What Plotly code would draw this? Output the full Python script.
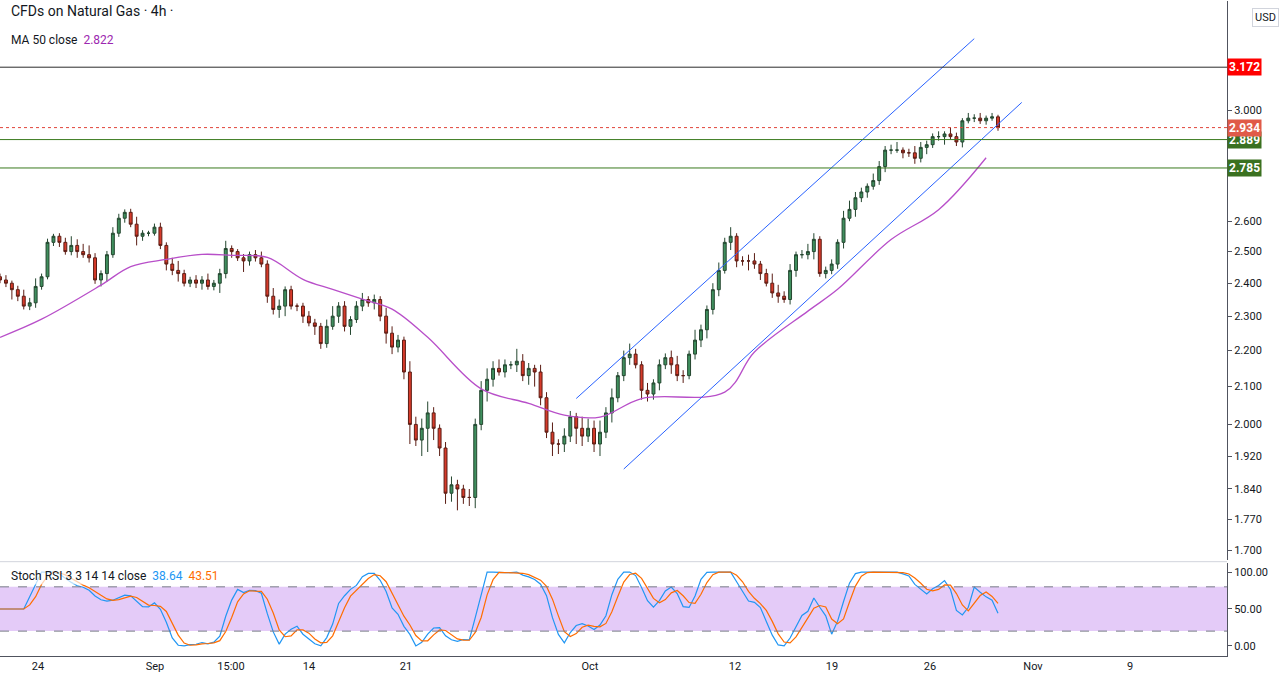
import numpy as np
import pandas as pd
import plotly.graph_objects as go

# 4h closes (open = previous close)
closes = [
    2.41, 2.40, 2.38, 2.36, 2.33, 2.34, 2.39, 2.42, 2.53, 2.55,
    2.53, 2.50, 2.52, 2.50, 2.49, 2.48, 2.41, 2.43, 2.49, 2.56,
    2.61, 2.63, 2.59, 2.55, 2.56, 2.56, 2.58, 2.52, 2.46, 2.44,
    2.43, 2.40, 2.41, 2.40, 2.41, 2.39, 2.40, 2.43, 2.51, 2.50,
    2.48, 2.47, 2.49, 2.48, 2.46, 2.36, 2.32, 2.33, 2.38, 2.33,
    2.33, 2.30, 2.28, 2.27, 2.22, 2.27, 2.30, 2.33, 2.27, 2.29,
    2.33, 2.35, 2.34, 2.35, 2.30, 2.25, 2.21, 2.23, 2.14,
    2.00, 1.96, 1.99, 2.03, 1.99, 1.94, 1.83, 1.85, 1.84, 1.82,
    1.82, 2.00, 2.09, 2.12, 2.15, 2.14, 2.16, 2.16, 2.17, 2.13,
    2.15, 2.14, 2.07, 1.98, 1.95, 1.95, 1.97, 2.02, 1.99, 1.97,
    1.99, 1.95, 1.98, 2.03, 2.07, 2.13, 2.18, 2.19, 2.16, 2.09,
    2.08, 2.11, 2.16, 2.18, 2.16, 2.13, 2.13, 2.19, 2.23, 2.26,
    2.32, 2.38, 2.44, 2.53, 2.55, 2.47, 2.47, 2.47, 2.46, 2.43,
    2.40, 2.37, 2.36, 2.35, 2.44, 2.49, 2.49, 2.50, 2.54, 2.43,
    2.44, 2.46, 2.53, 2.61, 2.64, 2.68, 2.70, 2.72, 2.74, 2.79,
    2.85, 2.85, 2.85, 2.84, 2.84, 2.82, 2.86, 2.87, 2.90, 2.90,
    2.91, 2.90, 2.88, 2.96, 2.97, 2.97, 2.96, 2.97, 2.975, 2.934,
]
first_open = 2.42

# wick lengths in thousandths of a dollar
wick_up = [
    10, 15, 8, 12, 20, 15, 25, 10, 12, 8,
    10, 15, 30, 20, 25, 30, 15, 10, 12, 20,
    15, 10, 12, 25, 10, 8, 12, 15, 10, 20,
    30, 12, 10, 15, 12, 20, 10, 15, 25, 10,
    8, 12, 10, 15, 20, 12, 25, 20, 10, 12,
    8, 10, 15, 12, 10, 20, 30, 12, 15, 10,
    15, 20, 10, 15, 10, 25, 20, 15, 10, 30,
    20, 25, 30, 15, 10, 15, 20, 12, 10, 20,
    15, 25, 30, 20, 25, 15, 10, 35, 20, 15,
    10, 20, 15, 25, 12, 20, 15, 10, 30, 25,
    20, 30, 15, 25, 10, 20, 30, 15, 10, 20,
    10, 15, 12, 20, 25, 15, 10, 30, 15, 12,
    20, 25, 15, 30, 10, 15, 20, 25, 10, 15,
    30, 25, 15, 20, 10, 15, 25, 20, 10, 12,
    15, 10, 25, 30, 20, 15, 10, 25, 20, 15,
    20, 30, 10, 15, 25, 20, 15, 12, 20, 10,
    25, 15, 10, 20, 15, 20, 10, 15, 8,
]
wick_dn = [
    10, 12, 30, 15, 10, 12, 15, 10, 8, 12,
    15, 10, 12, 20, 10, 15, 12, 20, 25, 10,
    12, 15, 10, 30, 15, 10, 8, 12, 20, 15,
    25, 10, 12, 15, 20, 10, 12, 30, 15, 20,
    10, 35, 15, 12, 10, 20, 15, 25, 30, 10,
    15, 20, 10, 25, 15, 12, 10, 20, 15, 25,
    10, 15, 12, 20, 15, 30, 20, 15, 20, 50,
    15, 40, 60, 30, 20, 25, 20, 50, 15, 20,
    25, 15, 30, 20, 10, 15, 12, 20, 15, 25,
    40, 20, 15, 30, 25, 20, 15, 40, 25, 15,
    20, 30, 15, 25, 12, 15, 20, 10, 25, 20,
    15, 20, 12, 25, 15, 20, 10, 15, 20, 25,
    15, 20, 10, 25, 20, 15, 30, 15, 20, 10,
    15, 20, 10, 15, 20, 12, 15, 25, 10, 15,
    12, 15, 20, 10, 25, 15, 20, 12, 15, 20,
    15, 10, 20, 15, 20, 15, 25, 12, 15, 30,
    10, 15, 20, 10, 15, 12, 15, 10, 12,
]

# MA 50 read at a few bars
ma_bar = [0, 7, 17, 22, 28, 34, 39, 45, 51, 56, 61, 66, 72, 81, 89, 95, 101, 108, 122, 127, 136, 141, 150, 158, 166]
ma_val = [2.238, 2.291, 2.394, 2.452, 2.475, 2.491, 2.488, 2.481, 2.412, 2.381, 2.351, 2.321, 2.238,
          2.094, 2.055, 2.024, 2.019, 2.068, 2.085, 2.196, 2.315, 2.381, 2.539, 2.639, 2.822]

# channel drawn on chart (bar, price)
chan_up = [(97, 2.068), (164, 3.291)]
chan_dn = [(105, 1.888), (172, 3.031)]

levels = [3.172, 2.889, 2.785]
last_price = 2.934

date_labels = ["24", "Sep", "15:00", "14", "21", "Oct", "12", "19", "26", "Nov", "9"]
date_px = [38, 155, 231, 309, 406, 590, 735, 832, 930, 1033, 1130]

n = len(closes)
pitch = 998 / (n - 1)
bars = np.arange(n)
opens = [first_open] + closes[:-1]
highs = [max(o, c) + w / 1000 for o, c, w in zip(opens, closes, wick_up)]
lows = [min(o, c) - w / 1000 for o, c, w in zip(opens, closes, wick_dn)]

# stoch RSI 3 3 14 14
s = pd.Series(closes)
d = s.diff().fillna(0)
up = d.clip(lower=0).ewm(alpha=1 / 14, adjust=False).mean()
dn = (-d.clip(upper=0)).ewm(alpha=1 / 14, adjust=False).mean()
rsi = 100 - 100 / (1 + up / dn.replace(0, 1e-9))
lo = rsi.rolling(14, min_periods=1).min()
hi = rsi.rolling(14, min_periods=1).max()
st = ((rsi - lo) / (hi - lo).replace(0, np.nan) * 100).fillna(50)
k = st.rolling(3, min_periods=1).mean()
dd = k.rolling(3, min_periods=1).mean()

fig = go.Figure()
fig.add_trace(go.Candlestick(
    x=bars, open=opens, high=highs, low=lows, close=closes,
    increasing=dict(fillcolor="#3f8f5e", line=dict(color="#24462f", width=1)),
    decreasing=dict(fillcolor="#d63a2a", line=dict(color="#5b1d14", width=1)),
    whiskerwidth=0, showlegend=False, hoverinfo="skip", xaxis="x", yaxis="y"))
fig.add_trace(go.Scatter(x=ma_bar, y=ma_val, mode="lines", line=dict(color="#b84fc9", width=1.3, shape="spline"),
                         showlegend=False, xaxis="x", yaxis="y"))
for ch in (chan_up, chan_dn):
    fig.add_trace(go.Scatter(x=[p[0] for p in ch], y=[p[1] for p in ch], mode="lines",
                             line=dict(color="#2962ff", width=1), showlegend=False, xaxis="x", yaxis="y"))

xmax = 1227 / pitch
fig.add_shape(type="rect", xref="x", yref="y2", x0=-1, x1=xmax + 1, y0=20, y1=80,
              fillcolor="rgba(196,140,240,0.45)", line=dict(width=0), layer="below")
for lv in (80, 20):
    fig.add_shape(type="line", xref="paper", yref="y2", x0=0, x1=1, y0=lv, y1=lv,
                  line=dict(color="#787b86", width=1, dash="dash"))
fig.add_trace(go.Scatter(x=bars, y=k, mode="lines", line=dict(color="#2196f3", width=1.2),
                         showlegend=False, xaxis="x", yaxis="y2"))
fig.add_trace(go.Scatter(x=bars, y=dd, mode="lines", line=dict(color="#ff6d00", width=1.2),
                         showlegend=False, xaxis="x", yaxis="y2"))

line_cols = ["#2b2b2b", "#3a7a1e", "#3a7a1e"]
lab_cols = ["#ff0000", "#3a7120", "#3a7120"]
for lv, lc, bc in zip(levels, line_cols, lab_cols):
    fig.add_shape(type="line", xref="paper", yref="y", x0=0, x1=1, y0=lv, y1=lv, line=dict(color=lc, width=1))
    fig.add_annotation(xref="paper", yref="y", x=1.0, y=np.log10(lv), xanchor="left", text=f"<b>{lv:.3f}</b>",
                       showarrow=False, bgcolor=bc, font=dict(color="white", size=12), borderpad=1)
fig.add_shape(type="line", xref="paper", yref="y", x0=0, x1=1, y0=last_price, y1=last_price,
              line=dict(color="#e0453a", width=1, dash="dot"))
fig.add_annotation(xref="paper", yref="y", x=1.0, y=np.log10(last_price), xanchor="left", text=f"<b>{last_price:.3f}</b>",
                   showarrow=False, bgcolor="#e05a48", font=dict(color="white", size=12), borderpad=1)

fig.add_annotation(xref="paper", yref="paper", x=0.007, y=0.985, xanchor="left", yanchor="middle", showarrow=False,
                   text="CFDs on Natural Gas · 4h ·", font=dict(size=14, color="#131722"))
fig.add_annotation(xref="paper", yref="paper", x=0.007, y=0.94, xanchor="left", yanchor="middle", showarrow=False,
                   text="MA 50 close  <span style='color:#9c27b0'>2.822</span>", font=dict(size=12, color="#131722"))
fig.add_annotation(xref="paper", yref="paper", x=0.007, y=0.122, xanchor="left", yanchor="middle", showarrow=False,
                   text="Stoch RSI 3 3 14 14 close  <span style='color:#2196f3'>38.64</span>  <span style='color:#ff6d00'>43.51</span>",
                   font=dict(size=12, color="#131722"), bgcolor="rgba(255,255,255,0.7)")
fig.add_annotation(xref="paper", yref="paper", x=1.02, y=0.975, xanchor="left", yanchor="middle", showarrow=False,
                   text="USD", font=dict(size=11, color="#131722"), bordercolor="#d1d4dc", borderwidth=1, borderpad=2,
                   bgcolor="white")

tick_idx = [p / pitch for p in date_px]
price_ticks = [1.70, 1.77, 1.84, 1.92, 2.0, 2.1, 2.2, 2.3, 2.4, 2.5, 2.6, 3.0]
fig.update_layout(
    width=1280, height=680, margin=dict(l=0, r=53, t=1, b=24, autoexpand=False),
    paper_bgcolor="white", plot_bgcolor="white",
    font=dict(family="Roboto, Liberation Sans, sans-serif", size=11, color="#131722"),
    xaxis=dict(range=[0, xmax], anchor="y2", tickvals=tick_idx, ticktext=date_labels, showgrid=False,
               zeroline=False, rangeslider=dict(visible=False), showline=True, linecolor="#50535e",
               ticks="", mirror=False),
    yaxis=dict(type="log", domain=[0.146, 1], range=[np.log10(1.678), np.log10(3.455)], side="right",
               tickvals=price_ticks, ticktext=[f"{v:.3f}" for v in price_ticks], showgrid=False, zeroline=False,
               showline=True, linecolor="#50535e", ticks="outside", ticklen=4, tickcolor="#50535e", anchor="x"),
    yaxis2=dict(domain=[0, 0.142], range=[-13.7, 112.3], side="right", tickvals=[0, 50, 100],
                ticktext=["0.00", "50.00", "100.00"], showgrid=False, zeroline=False, showline=True,
                linecolor="#50535e", ticks="outside", ticklen=4, tickcolor="#50535e", anchor="x"),
)
fig.add_shape(type="line", xref="paper", yref="paper", x0=0, x1=1, y0=0.144, y1=0.144,
              line=dict(color="#d1d4dc", width=1))
fig.write_html("out.html", config={"displayModeBar": False},
               post_script="document.body.style.margin='0px';")
